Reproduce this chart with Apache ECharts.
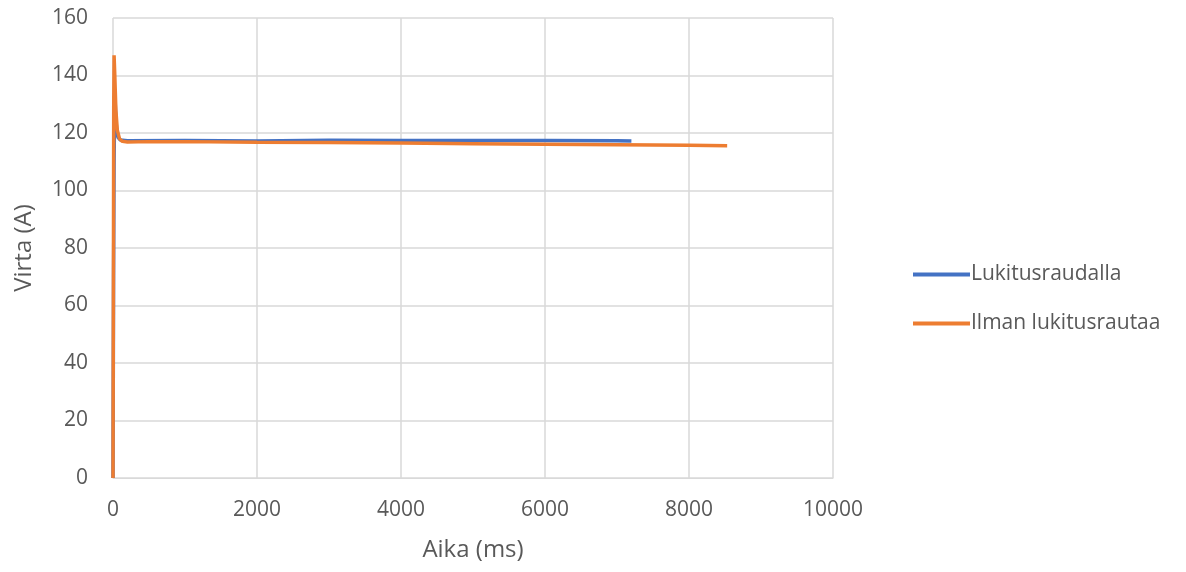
<!DOCTYPE html>
<html><head><meta charset="utf-8">
<script src="https://cdn.jsdelivr.net/npm/echarts@6/dist/echarts.min.js"></script>
<style>html,body{margin:0;padding:0;background:#fff}#c{width:1186px;height:572px}</style>
</head><body><div id="c"></div>
<script>
const seriesNames = ['Lukitusraudalla', 'Ilman lukitusrautaa'];
const blueTime  = [0, 8, 15, 25, 35, 50, 70, 100, 200, 1000, 2000, 3000, 4000, 5000, 6000, 7000, 7200];
const blueVal   = [0, 70, 110, 134, 128, 121, 118.5, 117.6, 117.3, 117.4, 117.2, 117.5, 117.4, 117.4, 117.4, 117.3, 117.2];
const orangeTime = [0, 5, 10, 15, 25, 40, 60, 90, 130, 200, 500, 1000, 2000, 3000, 4000, 5000, 6000, 7000, 8000, 8530];
const orangeVal  = [0, 60, 130, 147, 140, 128, 121, 118, 117.1, 116.9, 117, 117, 116.8, 116.7, 116.5, 116.3, 116.1, 115.9, 115.7, 115.6];
const xTitle = 'Aika (ms)';
const yTitle = 'Virta (A)';

const pairs = (t, v) => t.map((x, i) => [x, v[i]]);
const font = '"Open Sans", "Noto Sans", sans-serif';
const chart = echarts.init(document.getElementById('c'), null, {renderer: 'canvas'});
chart.setOption({
  animation: false,
  color: ['#4472C4', '#ED7D31'],
  grid: {left: 113, right: 353, top: 18, bottom: 94, containLabel: false},
  legend: {
    orient: 'vertical', left: 908, top: 259, itemGap: 28,
    itemWidth: 57, itemHeight: 4, icon: 'rect',
    textStyle: {fontFamily: font, fontSize: 21, color: '#595959', padding: [0, 0, 0, -4]},
    data: seriesNames
  },
  xAxis: {
    type: 'value', min: 0, max: 10000, interval: 2000,
    name: xTitle, nameLocation: 'middle', nameGap: 60,
    nameTextStyle: {fontFamily: font, fontSize: 24, color: '#595959'},
    axisLine: {show: true, lineStyle: {color: '#d9d9d9', width: 1}},
    axisTick: {show: false},
    axisLabel: {fontFamily: font, fontSize: 21, color: '#595959', margin: 22,
                formatter: v => String(v)},
    splitLine: {show: true, lineStyle: {color: '#d9d9d9', width: 1.5}}
  },
  yAxis: {
    type: 'value', min: 0, max: 160, interval: 20,
    name: yTitle, nameLocation: 'middle', nameGap: 77, nameRotate: 90,
    nameTextStyle: {fontFamily: font, fontSize: 24, color: '#595959'},
    axisLine: {show: false},
    axisTick: {show: false},
    axisLabel: {fontFamily: font, fontSize: 21, color: '#595959', margin: 25},
    splitLine: {show: true, lineStyle: {color: '#d9d9d9', width: 1.5}}
  },
  series: [
    {name: seriesNames[0], type: 'line', showSymbol: false, data: pairs(blueTime, blueVal),
     lineStyle: {width: 3.5, color: '#4472C4'}},
    {name: seriesNames[1], type: 'line', showSymbol: false, data: pairs(orangeTime, orangeVal),
     lineStyle: {width: 3.5, color: '#ED7D31'}}
  ]
});
</script></body></html>
